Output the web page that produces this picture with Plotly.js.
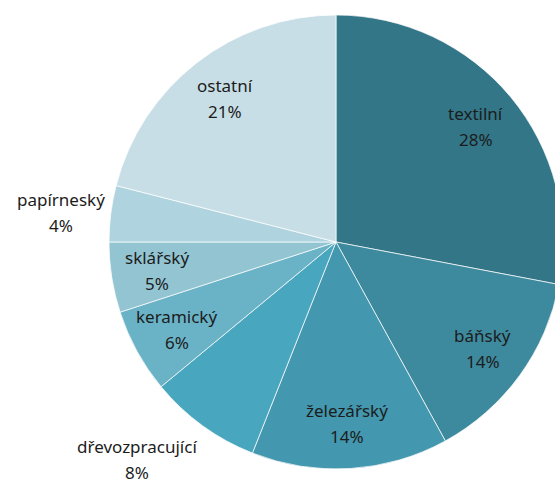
<!DOCTYPE html>
<html>
<head>
<meta charset="utf-8">
<script src="https://cdn.plot.ly/plotly-3.0.1.min.js"></script>
<style>
  html, body { margin: 0; padding: 0; overflow: hidden; background: #ffffff; }
  #chart { position: absolute; left: 0; top: 0; width: 600px; height: 500px; }
</style>
</head>
<body>
<div id="chart"></div>
<script>
// Data
const categories = ["textilní", "báňský", "železářský", "dřevozpracující", "keramický", "sklářský", "papírneský", "ostatní"];
const shares = [28, 14, 14, 8, 6, 5, 4, 21];
const sliceColors = ["#327687", "#3d899d", "#4397ae", "#49a6bf", "#6ab3c7", "#92c4d2", "#b0d4df", "#c7dee6"];
const outsideLabels = ["dřevozpracující", "papírneský"];

// Geometry of the drawing area (pixels within a 600x500 div)
const W = 600, H = 500;
const CX = 336, CY = 242, R = 227;

const total = shares.reduce((a, b) => a + b, 0);
const annotations = [];
let cum = 0;
const font = { family: "Noto Sans, Open Sans, sans-serif", size: 17, color: "#1c1c1c" };
shares.forEach((v, i) => {
  const mid = (cum + v / 2) / total * 2 * Math.PI; // clockwise from top
  cum += v;
  const s = Math.sin(mid), c = Math.cos(mid);
  let px, py;
  if (outsideLabels.includes(categories[i])) {
    const ar = R + 10;
    const ax = CX + s * ar, ay = CY - c * ar;
    const halfW = categories[i].length * 4.0;
    px = ax + (s < 0 ? -halfW : halfW);
    py = Math.abs(c) > 0.7 ? ay + (c < 0 ? 26 : -26) : ay;
  } else {
    const f = 0.8;
    px = CX + s * f * R;
    py = CY - c * f * R;
  }
  const pct = Math.round(v / total * 100) + "%";
  const base = { x: px / W, y: 1 - py / H, xref: "paper", yref: "paper", showarrow: false,
                 xanchor: "center", yanchor: "middle", font: font };
  annotations.push(Object.assign({}, base, { text: categories[i], yshift: 13 }));
  annotations.push(Object.assign({}, base, { text: pct, yshift: -13 }));
});

const trace = {
  type: "pie",
  labels: categories,
  values: shares,
  sort: false,
  direction: "clockwise",
  rotation: 0,
  textinfo: "none",
  hoverinfo: "label+percent",
  marker: { colors: sliceColors, line: { color: "rgba(255,255,255,0.7)", width: 1 } },
  domain: { x: [(CX - R) / W, (CX + R) / W], y: [1 - (CY + R) / H, 1 - (CY - R) / H] }
};

const layout = {
  width: W, height: H,
  margin: { l: 0, r: 0, t: 0, b: 0 },
  showlegend: false,
  paper_bgcolor: "#ffffff",
  annotations: annotations
};

Plotly.newPlot("chart", [trace], layout, { displayModeBar: false, staticPlot: true });
</script>
</body>
</html>
